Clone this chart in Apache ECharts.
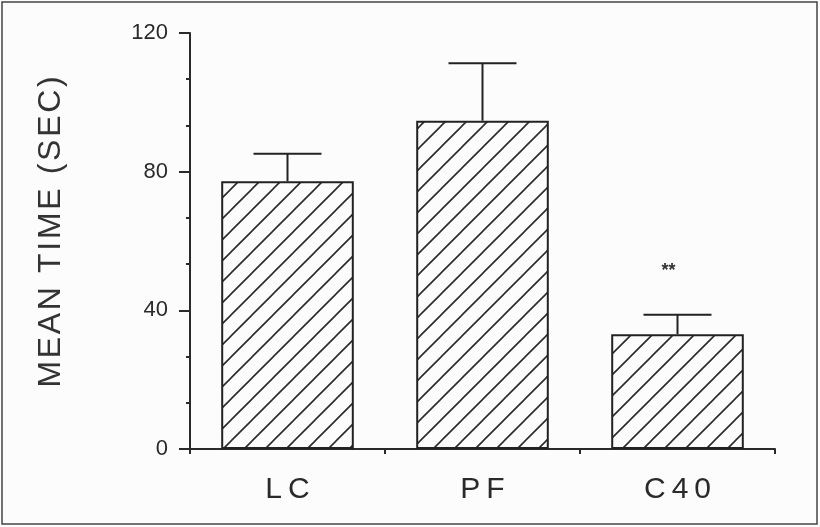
<!DOCTYPE html>
<html>
<head>
<meta charset="utf-8">
<script src="https://cdn.jsdelivr.net/npm/echarts@6/dist/echarts.min.js"></script>
<style>
html,body{margin:0;padding:0;background:#fcfcfc;}
#chart{width:820px;height:527px;}
</style>
</head>
<body>
<div id="chart"></div>
<script>
// ---- data ----
const categories = ['LC', 'PF', 'C40'];
const meanValues = [77.2, 94.7, 33.1];
const errorTops = [85.2, 111.3, 38.7];
const significance = ['', '', '**'];
const yTicks = [0, 40, 80, 120];
const yAxisTitle = 'MEAN TIME (SEC)';

// ---- hatch pattern ----
function makeHatch() {
  const s = 21;
  const c = document.createElement('canvas');
  c.width = s; c.height = s;
  const g = c.getContext('2d');
  g.fillStyle = '#fcfcfc';
  g.fillRect(0, 0, s, s);
  g.strokeStyle = '#2a2a2a';
  g.lineWidth = 1.6;
  g.beginPath();
  g.moveTo(0, s); g.lineTo(s, 0);
  g.moveTo(-s, s); g.lineTo(s, -s);
  g.moveTo(0, 2 * s); g.lineTo(2 * s, 0);
  g.stroke();
  return c;
}
const hatch = makeHatch();
const spaced = (t, sp) => t.split('').join(sp);

const chart = echarts.init(document.getElementById('chart'), null, {renderer: 'canvas'});
chart.setOption({
  backgroundColor: '#fcfcfc',
  animation: false,
  grid: {left: 190, right: 45, top: 33, bottom: 78},
  graphic: [{
    type: 'rect', silent: true,
    shape: {x: 2, y: 2, width: 815, height: 522},
    style: {fill: 'none', stroke: '#444', lineWidth: 1.5}
  }],
  xAxis: {
    type: 'category',
    data: categories,
    axisLine: {lineStyle: {color: '#2a2a2a', width: 2}},
    axisTick: {show: true, length: 5, lineStyle: {color: '#2a2a2a', width: 2}},
    axisLabel: {
      margin: 26, color: '#2a2a2a', fontSize: 30,
      fontFamily: 'Liberation Sans, Arial, sans-serif',
      formatter: v => spaced(v, '\u2009')
    }
  },
  yAxis: {
    type: 'value',
    min: 0, max: 120, interval: 40,
    name: spaced(yAxisTitle, '\u200A'),
    nameLocation: 'middle',
    nameGap: 123,
    nameTextStyle: {color: '#333', fontSize: 32, fontFamily: 'Liberation Sans, Arial, sans-serif', padding: [0, 0, 0, 18]},
    axisLine: {show: true, lineStyle: {color: '#2a2a2a', width: 2}},
    axisTick: {show: true, length: 11, lineStyle: {color: '#2a2a2a', width: 2}},
    minorTick: {show: true, splitNumber: 3, length: 4, lineStyle: {color: '#2a2a2a', width: 2}},
    splitLine: {show: false},
    axisLabel: {
      margin: 22, color: '#2a2a2a', fontSize: 22,
      fontFamily: 'Liberation Sans, Arial, sans-serif',
      formatter: v => yTicks.includes(v) ? String(v) : ''
    }
  },
  series: [{
    type: 'bar',
    data: meanValues,
    barWidth: '68%',
    itemStyle: {
      color: {image: hatch, repeat: 'repeat'},
      borderColor: '#222', borderWidth: 2
    },
    z: 2
  }, {
    type: 'custom',
    data: categories.map((c, i) => [i, meanValues[i], errorTops[i]]),
    renderItem: function (params, api) {
      const i = api.value(0);
      const base = api.coord([i, api.value(1)]);
      const top = api.coord([i, api.value(2)]);
      const half = 34;
      const children = [
        {type: 'line', shape: {x1: base[0], y1: base[1], x2: top[0], y2: top[1]}, style: {stroke: '#222', lineWidth: 2}},
        {type: 'line', shape: {x1: top[0] - half, y1: top[1], x2: top[0] + half, y2: top[1]}, style: {stroke: '#222', lineWidth: 2}}
      ];
      const sig = significance[params.dataIndex];
      if (sig) {
        children.push({type: 'text', style: {text: sig, x: top[0] - 9, y: top[1] - 44, align: 'center', verticalAlign: 'middle', fill: '#333', font: 'bold 18px Liberation Sans, Arial, sans-serif'}});
      }
      return {type: 'group', children: children};
    },
    z: 3
  }]
});
</script>
</body>
</html>
